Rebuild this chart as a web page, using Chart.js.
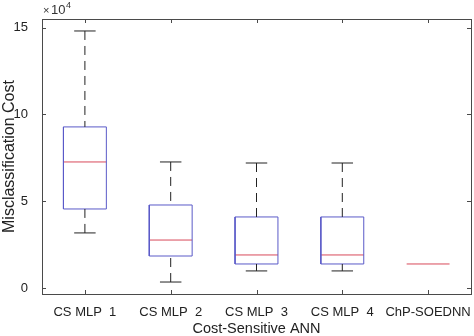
<!DOCTYPE html>
<html>
<head>
<meta charset="utf-8">
<script src="https://cdn.jsdelivr.net/npm/chart.js@4"></script>
<style>
  html, body { margin: 0; padding: 0; background: #fff; }
  #wrap { width: 474px; height: 336px; }
</style>
</head>
<body>
<div id="wrap"><canvas id="chart-box"></canvas></div>
<script>
const categories = ['CS MLP  1', 'CS MLP  2', 'CS MLP  3', 'CS MLP  4', 'ChP-SOEDNN']
const whiskerLow = [31700, 3400, 9800, 9800, 13800]
const q1 = [45500, 18400, 13800, 13800, 13800]
const median = [72600, 27600, 19000, 19000, 13800]
const q3 = [92800, 47800, 40900, 40900, 13800]
const whiskerHigh = [148100, 72600, 72000, 72000, 13800]
const yTicks = [0, 50000, 100000, 150000]

const boxHalf = 0.25
const capHalf = 0.125
const font = "'Liberation Sans', Arial, sans-serif"

// line segments separated by gaps, one dataset per element type
const gap = i => ({x: i, y: null})
const boxPts = [], medPts = [], whiskPts = [], capPts = []
categories.forEach((c, k) => {
  const i = k + 1
  medPts.push({x: i - boxHalf, y: median[k]}, {x: i + boxHalf, y: median[k]}, gap(i))
  // a collapsed box (all values equal) shows only its median, as in matlab
  if (q3[k] > q1[k]) {
    boxPts.push({x: i - boxHalf, y: q1[k]}, {x: i + boxHalf, y: q1[k]}, {x: i + boxHalf, y: q3[k]},
                {x: i - boxHalf, y: q3[k]}, {x: i - boxHalf, y: q1[k]}, gap(i))
  }
  if (whiskerHigh[k] > q3[k]) {
    whiskPts.push({x: i, y: whiskerHigh[k]}, {x: i, y: q3[k]}, gap(i))
    capPts.push({x: i - capHalf, y: whiskerHigh[k]}, {x: i + capHalf, y: whiskerHigh[k]}, gap(i))
  }
  if (whiskerLow[k] < q1[k]) {
    whiskPts.push({x: i, y: whiskerLow[k]}, {x: i, y: q1[k]}, gap(i))
    capPts.push({x: i - capHalf, y: whiskerLow[k]}, {x: i + capHalf, y: whiskerLow[k]}, gap(i))
  }
})

const seg = (data, color, dash) => ({
  data, borderColor: color, borderWidth: 1, borderDash: dash || [],
  showLine: true, pointRadius: 0, spanGaps: false, tension: 0
})

// matlab style frame with inward ticks, plus the x10^4 multiplier
const matlabFrame = {
  id: 'matlabFrame',
  afterDraw(chart) {
    const {ctx, chartArea: a, scales: {x, y}} = chart
    const t = 4
    ctx.save()
    ctx.strokeStyle = '#4a4a4a'
    ctx.lineWidth = 1
    ctx.strokeRect(Math.round(a.left) + 0.5, Math.round(a.top) + 0.5,
                   Math.round(a.right - a.left), Math.round(a.bottom - a.top))
    ctx.beginPath()
    x.ticks.forEach(tk => {
      const px = Math.round(x.getPixelForValue(tk.value)) + 0.5
      ctx.moveTo(px, a.bottom); ctx.lineTo(px, a.bottom - t)
      ctx.moveTo(px, a.top); ctx.lineTo(px, a.top + t)
    })
    y.ticks.forEach(tk => {
      const py = Math.round(y.getPixelForValue(tk.value)) + 0.5
      ctx.moveTo(a.left, py); ctx.lineTo(a.left + t, py)
      ctx.moveTo(a.right, py); ctx.lineTo(a.right - t, py)
    })
    ctx.stroke()
    ctx.fillStyle = '#333'
    ctx.textBaseline = 'alphabetic'
    ctx.font = '11px ' + font
    ctx.fillText('\u00d7', a.left + 1, a.top - 5)
    ctx.font = '13px ' + font
    ctx.fillText('10', a.left + 9, a.top - 5)
    ctx.font = '9px ' + font
    ctx.fillText('4', a.left + 24, a.top - 11)
    ctx.restore()
  }
}

new Chart(document.getElementById('chart-box'), {
  type: 'scatter',
  data: {
    datasets: [
      seg(whiskPts, '#222222', [9, 6]),
      seg(capPts, '#222222'),
      seg(boxPts, '#5a5ac8'),
      seg(medPts, '#d84a5a'),
    ]
  },
  options: {
    animation: false,
    responsive: true,
    maintainAspectRatio: false,
    layout: {padding: {top: 19, right: 3, bottom: 0, left: 0}},
    plugins: {legend: {display: false}, tooltip: {enabled: false}},
    scales: {
      x: {
        type: 'linear',
        min: 0.5,
        max: 5.5,
        afterBuildTicks: s => { s.ticks = categories.map((c, k) => ({value: k + 1})) },
        afterFit: s => { s.height = 42; s.paddingLeft = 0; s.paddingRight = 0 },
        grid: {display: false},
        border: {display: false},
        ticks: {
          callback: v => categories[v - 1],
          color: '#222', padding: 3, maxRotation: 0, autoSkip: false,
          font: {family: font, size: 13}
        },
        title: {
          display: true, text: 'Cost-Sensitive ANN', color: '#222',
          padding: 0, font: {family: font, size: 14.5, lineHeight: 1}
        }
      },
      y: {
        min: -3500,
        max: 155000,
        afterBuildTicks: s => { s.ticks = yTicks.map(v => ({value: v})) },
        afterFit: s => { s.width = 42 },
        grid: {display: false},
        border: {display: false},
        ticks: {
          callback: v => String(v / 10000),
          color: '#222', padding: 6,
          font: {family: font, size: 13}
        },
        title: {
          display: true, text: 'Misclassification Cost', color: '#222',
          padding: 0, font: {family: font, size: 16}
        }
      }
    }
  },
  plugins: [matlabFrame]
})
</script>
</body>
</html>
